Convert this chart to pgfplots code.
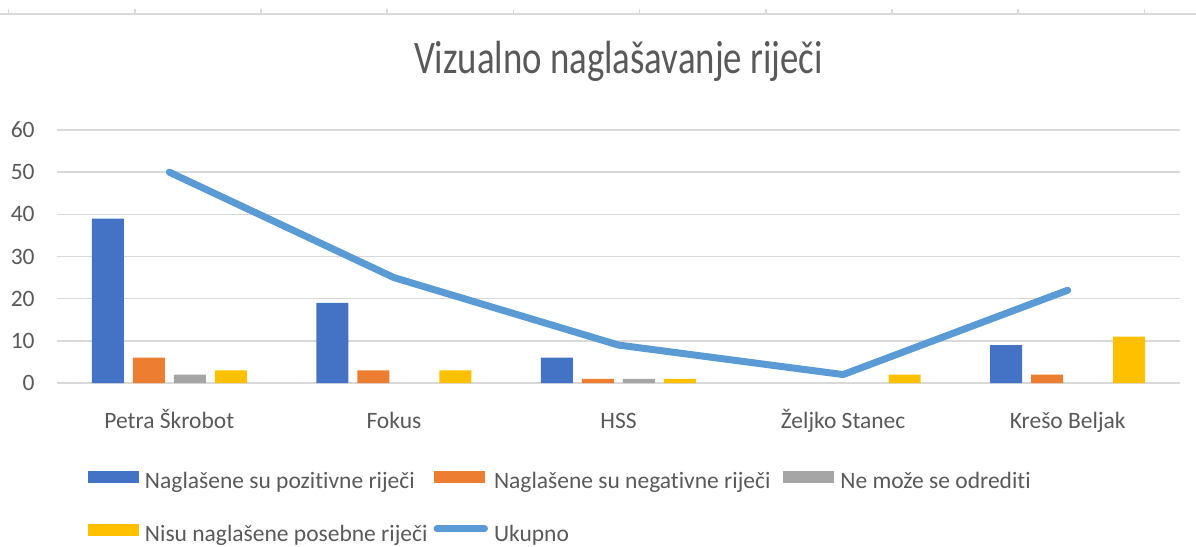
\documentclass[border=0pt]{standalone}
\usepackage{fontspec}
\setmainfont{Carlito}[Ligatures=NoCommon]
\newfontfamily\titlefont{Carlito}[FakeStretch=0.79]
\usepackage{pgfplots}
\pgfplotsset{compat=1.18}
\definecolor{blueC}{HTML}{4472C4}
\definecolor{orangeC}{HTML}{ED7D31}
\definecolor{grayC}{HTML}{A5A5A5}
\definecolor{yellowC}{HTML}{FFC000}
\definecolor{lineC}{HTML}{5B9BD5}
\definecolor{textC}{HTML}{595959}
\definecolor{gridC}{HTML}{D9D9D9}
\begin{document}
\begin{tikzpicture}
\useasboundingbox (-28.5pt,-82pt) rectangle (569.5pt,191.5pt);
% spreadsheet ruler strip at the top
\draw[gridC, line width=1pt] (-28.5pt,184.5pt) -- (569.5pt,184.5pt);
\foreach \k in {0,...,9} {
  \draw[gridC, line width=0.8pt] ({(8.5+126.2*\k-57)/2*1pt},184.5pt) -- ({(8.5+126.2*\k-57)/2*1pt},186.8pt);
}
\begin{axis}[
  at={(0,0)}, anchor=south west,
  scale only axis,
  width=561.5pt, height=126.5pt,
  xmin=-0.5, xmax=4.5, ymin=0, ymax=60,
  enlargelimits=false,
  ybar=4.5pt, bar width=16pt,
  xtick={0,1,2,3,4},
  xticklabels={Petra Škrobot, Fokus, HSS, Željko Stanec, Krešo Beljak},
  ytick={0,10,...,60},
  ymajorgrids, grid style={gridC, line width=0.75pt},
  axis line style={draw=none},
  major tick length=0pt,
  /pgf/number format/assume math mode=true,
  tick label style={font=\fontsize{11.75pt}{14pt}\selectfont, text=textC, inner sep=0pt},
  xticklabel style={anchor=base, yshift=-22.5pt},
  yticklabel style={anchor=east, xshift=-11pt},
  every axis title shift=0pt,
  title={Vizualno naglašavanje riječi},
  title style={at={(0.5,1)}, anchor=base, yshift=28.5pt, inner sep=0pt,
    font=\titlefont\fontsize{23.3pt}{28pt}\selectfont, text=textC},
  legend columns=3,
  legend style={at={(rel axis cs:0.0276,-0.3478)}, anchor=north west,
    draw=none, fill=none, inner sep=0pt, outer sep=0pt,
    font=\fontsize{11.75pt}{14pt}\selectfont, text=textC,
    row sep=14.5pt,
    nodes={inner sep=0pt, text height=9pt, text depth=3pt},
    /tikz/column 1/.style={column sep=3pt},
    /tikz/column 2/.style={column sep=3pt},
    /tikz/column 3/.style={column sep=3pt},
    /tikz/column 4/.style={column sep=6.5pt},
    /tikz/column 5/.style={column sep=3pt},
  },
  legend cell align=left,
]
\addplot[fill=blueC, draw=none,
  legend image code/.code={\fill[blueC] (0pt,0pt) rectangle (25.5pt,6pt);}]
  coordinates {(0,39) (1,19) (2,6) (4,9)};
\addplot[fill=orangeC, draw=none,
  legend image code/.code={\fill[orangeC] (0pt,0pt) rectangle (25.5pt,6pt);}]
  coordinates {(0,6) (1,3) (2,1) (4,2)};
\addplot[fill=grayC, draw=none,
  legend image code/.code={\fill[grayC] (0pt,0pt) rectangle (25.5pt,6pt);}]
  coordinates {(0,2) (2,1)};
\addplot[fill=yellowC, draw=none,
  legend image code/.code={\fill[yellowC] (0pt,0pt) rectangle (25.5pt,6pt);}]
  coordinates {(0,3) (1,3) (2,1) (3,2) (4,11)};
\addplot[sharp plot, lineC, line width=3.5pt, line cap=round, line join=round,
  legend image code/.code={\draw[lineC, line width=3.5pt, line cap=round] (1.75pt,3.5pt) -- (25.5pt,3.5pt);}]
  coordinates {(0,50) (1,25) (2,9) (3,2) (4,22)};
\legend{Naglašene su pozitivne riječi, Naglašene su negativne riječi, Ne može se odrediti, Nisu naglašene posebne riječi, Ukupno}
\end{axis}
\end{tikzpicture}
\end{document}
